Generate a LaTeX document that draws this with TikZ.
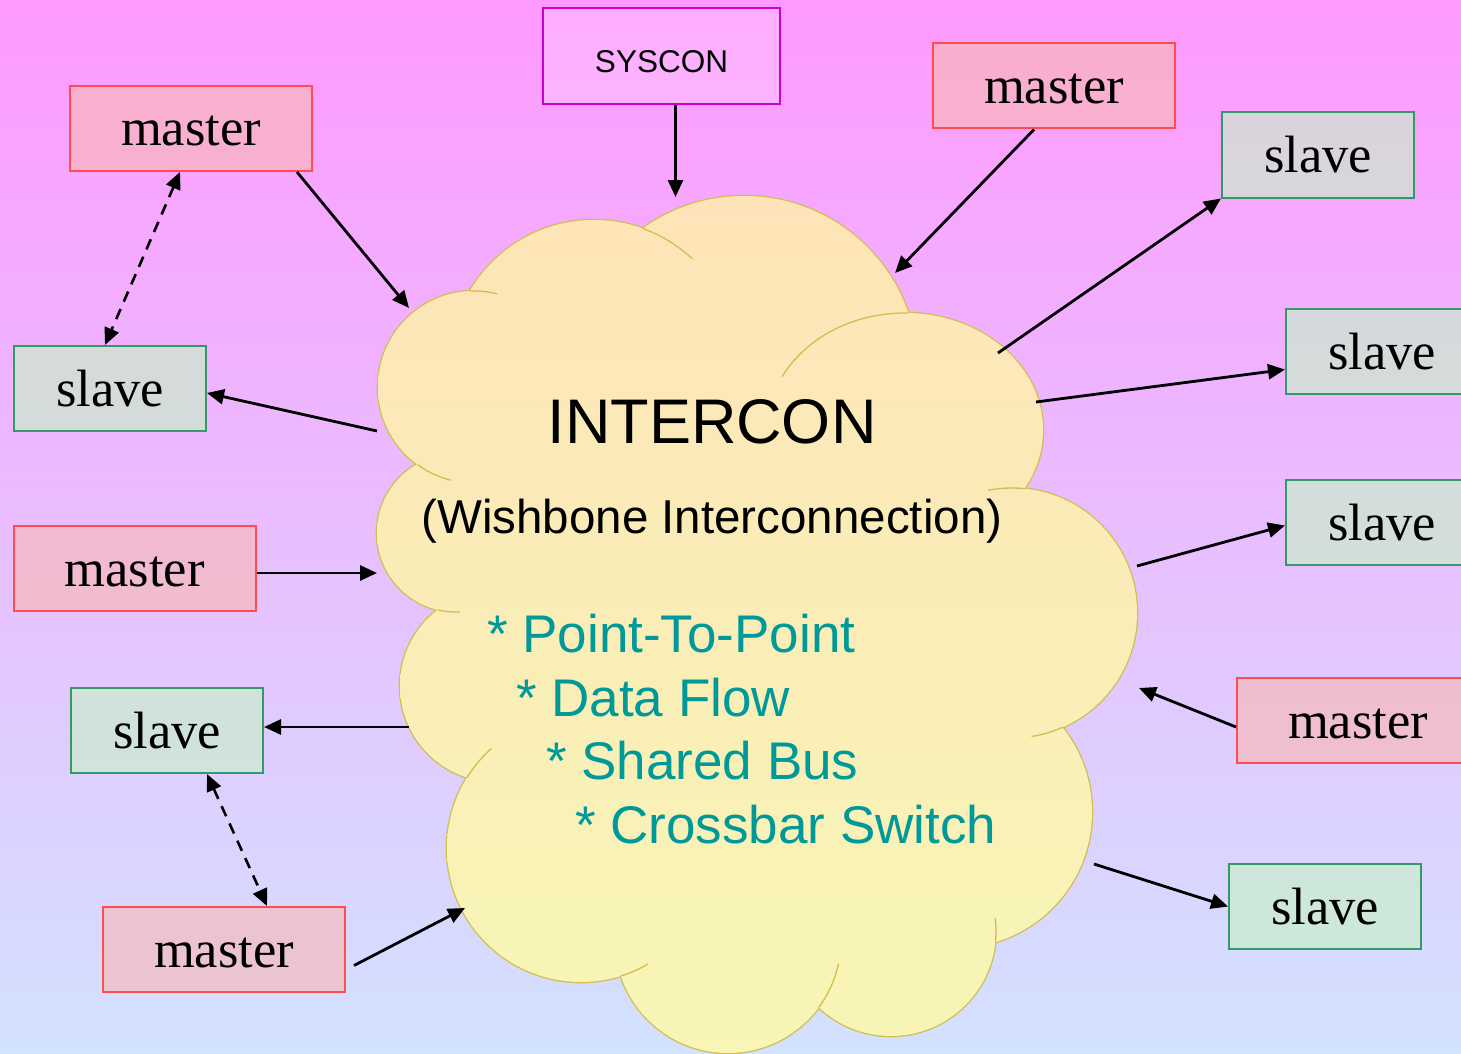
\documentclass[tikz,border=0pt]{standalone}
\usepackage{fontspec}
\setmainfont{Liberation Serif}
\newfontfamily\arialish{Liberation Sans}
\usetikzlibrary{arrows.meta}

\definecolor{bgtop}{HTML}{FF99FF}
\definecolor{bgbot}{HTML}{D2E2FF}
\definecolor{cloudtop}{HTML}{FDE4B8}
\definecolor{cloudbot}{HTML}{F7F6B6}
\definecolor{cloudline}{HTML}{D2BE4E}
\definecolor{masterline}{HTML}{FF4D4D}
\definecolor{masterfill}{HTML}{F8B8B8}
\definecolor{slaveline}{HTML}{339966}
\definecolor{slavefill}{HTML}{C8F0C8}
\definecolor{sysline}{HTML}{CC00CC}
\definecolor{listteal}{HTML}{009999}

% one piece of the cloud body, filled with the shared vertical gradient
\newcommand\lobefill[1]{%
  \begin{scope}
    \clip #1;
    \shade[top color=cloudtop, bottom color=cloudbot] (370,190) rectangle (1145,1060);
  \end{scope}}

\tikzset{
  unitbox/.style={draw, line width=2pt, inner sep=0pt, minimum height=85pt,
    text height=35pt, text depth=0pt, fill opacity=0.65, text opacity=1,
    font=\fontsize{52.5pt}{60pt}\selectfont},
  masterbox/.style={unitbox, draw=masterline, fill=masterfill, minimum width=242pt},
  slavebox/.style={unitbox, draw=slaveline, fill=slavefill, minimum width=192pt},
  sysbox/.style={draw=sysline, line width=2pt, fill=white, fill opacity=0.2, text opacity=1,
    inner sep=0pt, minimum width=237pt, minimum height=96pt, text height=34pt, text depth=0pt,
    font=\arialish\fontsize{31.5pt}{36pt}\selectfont},
  link/.style={line width=2.8pt, -{Triangle[length=17pt,width=15pt]}},
  duallink/.style={line width=2.6pt, dash pattern=on 11pt off 8pt,
    {Triangle[length=17pt,width=15pt]}-{Triangle[length=17pt,width=15pt]}},
  rim/.style={draw=cloudline, line width=2.6pt},
  crease/.style={draw=cloudline, line width=1.3pt},
  listitem/.style={anchor=base west, inner sep=0pt, text=listteal,
    font=\arialish\fontsize{53pt}{60pt}\selectfont},
}

\begin{document}
\begin{tikzpicture}[x=1pt, y=-1pt]
  \useasboundingbox (0,0) rectangle (1461,1054);
  \clip (0,0) rectangle (1461,1054);
  \shade[top color=bgtop, bottom color=bgbot] (0,0) rectangle (1461,1054);

  % cloud rim: every lobe stroked, then the body covers the inner half
  \path[rim] (594,364) circle[radius=144pt];
  \path[rim] (744,370) circle[radius=174pt];
  \path[rim] (905,430) ellipse[x radius=138pt, y radius=117pt];
  \path[rim] (1012,613) circle[radius=125pt];
  \path[rim] (956,812) circle[radius=136pt];
  \path[rim] (891,931) circle[radius=105pt];
  \path[rim] (728,940) circle[radius=113pt];
  \path[rim] (581,848) circle[radius=134pt];
  \path[rim] (496,686) circle[radius=96pt];
  \path[rim] (456,533) circle[radius=79pt];
  \path[rim] (474,387) circle[radius=96pt];

  % cloud body
  \lobefill{(594,364) circle[radius=144pt]}
  \lobefill{(744,370) circle[radius=174pt]}
  \lobefill{(905,430) ellipse[x radius=138pt, y radius=117pt]}
  \lobefill{(1012,613) circle[radius=125pt]}
  \lobefill{(956,812) circle[radius=136pt]}
  \lobefill{(891,931) circle[radius=105pt]}
  \lobefill{(728,940) circle[radius=113pt]}
  \lobefill{(581,848) circle[radius=134pt]}
  \lobefill{(496,686) circle[radius=96pt]}
  \lobefill{(456,533) circle[radius=79pt]}
  \lobefill{(474,387) circle[radius=96pt]}
  \lobefill{(744,370) -- (905,430) -- (1012,613) -- (956,812) -- (891,931) -- (728,940)
    -- (581,848) -- (496,686) -- (456,533) -- (474,387) -- (594,364) -- cycle}

  % creases where one lobe runs on over its neighbour
  \draw[crease] plot[domain=-70.2:-47, samples=20] ({594+144*cos(\x)},{364+144*sin(\x)});
  \draw[crease] plot[domain=-153:-88.8, samples=40] ({905+138*cos(\x)},{430+117*sin(\x)});
  \draw[crease] plot[domain=-92.4:-76, samples=15] ({474+96*cos(\x)},{387+96*sin(\x)});
  \draw[crease] plot[domain=104:126, samples=15] ({474+96*cos(\x)},{387+96*sin(\x)});
  \draw[crease] plot[domain=87:103.2, samples=15] ({456+79*cos(\x)},{533+79*sin(\x)});
  \draw[crease] plot[domain=211.6:228, samples=15] ({581+134*cos(\x)},{848+134*sin(\x)});
  \draw[crease] plot[domain=60:72.6, samples=15] ({581+134*cos(\x)},{848+134*sin(\x)});
  \draw[crease] plot[domain=12:36.5, samples=15] ({728+113*cos(\x)},{940+113*sin(\x)});
  \draw[crease] plot[domain=-7:6, samples=15] ({891+105*cos(\x)},{931+105*sin(\x)});
  \draw[crease] plot[domain=65.9:81, samples=15] ({1012+125*cos(\x)},{613+125*sin(\x)});
  \draw[crease] plot[domain=-101:-84, samples=15] ({1012+125*cos(\x)},{613+125*sin(\x)});

  % cloud text
  \node[anchor=base, inner sep=0pt, font=\arialish\fontsize{63pt}{70pt}\selectfont]
    (title) at (712,443) {INTERCON};
  \node[anchor=base, inner sep=0pt, font=\arialish\fontsize{47.5pt}{55pt}\selectfont]
    (subtitle) at (712,533) {(Wishbone Interconnection)};
  \node[listitem] (item1) at (487,652) {* Point-To-Point};
  \node[listitem] (item2) at (516,716) {* Data Flow};
  \node[listitem] (item3) at (546,779) {* Shared Bus};
  \node[listitem] (item4) at (575,843) {* Crossbar Switch};

  % attachment points on the cloud
  \coordinate (c-sys) at (675.5,197);
  \coordinate (c-m1) at (409,308);
  \coordinate (c-s1) at (377,431);
  \coordinate (c-m2) at (895,273);
  \coordinate (c-s2) at (998,353);
  \coordinate (c-s3) at (1036,402);
  \coordinate (c-s4) at (1137,566);
  \coordinate (c-m3) at (1139,688);
  \coordinate (c-s5) at (1094,864);
  \coordinate (c-m4) at (377,573);
  \coordinate (c-s6) at (409,727);
  \coordinate (c-m5) at (465,908);

  % units around the interconnection
  \node[sysbox] (sys) at (661.5,56) {SYSCON};
  \node[masterbox] (m1) at (191,128.5) {master};
  \node[masterbox] (m2) at (1054,86) {master};
  \node[slavebox] (s1) at (110,388.5) {slave};
  \node[slavebox] (s2) at (1318,155) {slave};
  \node[slavebox] (s3) at (1382,351.5) {slave};
  \node[slavebox] (s4) at (1382,522.5) {slave};
  \node[masterbox] (m3) at (1358,720.5) {master};
  \node[slavebox] (s5) at (1325,906.5) {slave};
  \node[masterbox] (m4) at (134.5,568.5) {master};
  \node[slavebox] (s6) at (167,730.5) {slave};
  \node[masterbox] (m5) at (224,949.5) {master};

  % connectors
  \draw[link] ([xshift=14pt]sys.south) -- (c-sys);
  \draw[link] ([xshift=-16pt]m1.south east) -- (c-m1);
  \draw[duallink] ([xshift=-11pt]m1.south) -- ([xshift=-5pt]s1.north);
  \draw[link] (c-s1) -- ([yshift=-4.5pt]s1.east);
  \draw[link] ([xshift=-20pt]m2.south) -- (c-m2);
  \draw[link] (c-s2) -- (s2.south west);
  \draw[link] (c-s3) -- ([yshift=-18pt]s3.west);
  \draw[link] (c-s4) -- ([yshift=-3pt]s4.west);
  \draw[link] ([yshift=-6.5pt]m3.west) -- (c-m3);
  \draw[link] (c-s5) -- (s5.west);
  \draw[link] ([yshift=-4.5pt]m4.east) -- (c-m4);
  \draw[link] (c-s6) -- ([yshift=3.5pt]s6.east);
  \draw[duallink] ([xshift=40pt]s6.south) -- ([xshift=43pt]m5.north);
  \draw[link] ([xshift=8pt,yshift=-16pt]m5.east) -- (c-m5);
\end{tikzpicture}
\end{document}
